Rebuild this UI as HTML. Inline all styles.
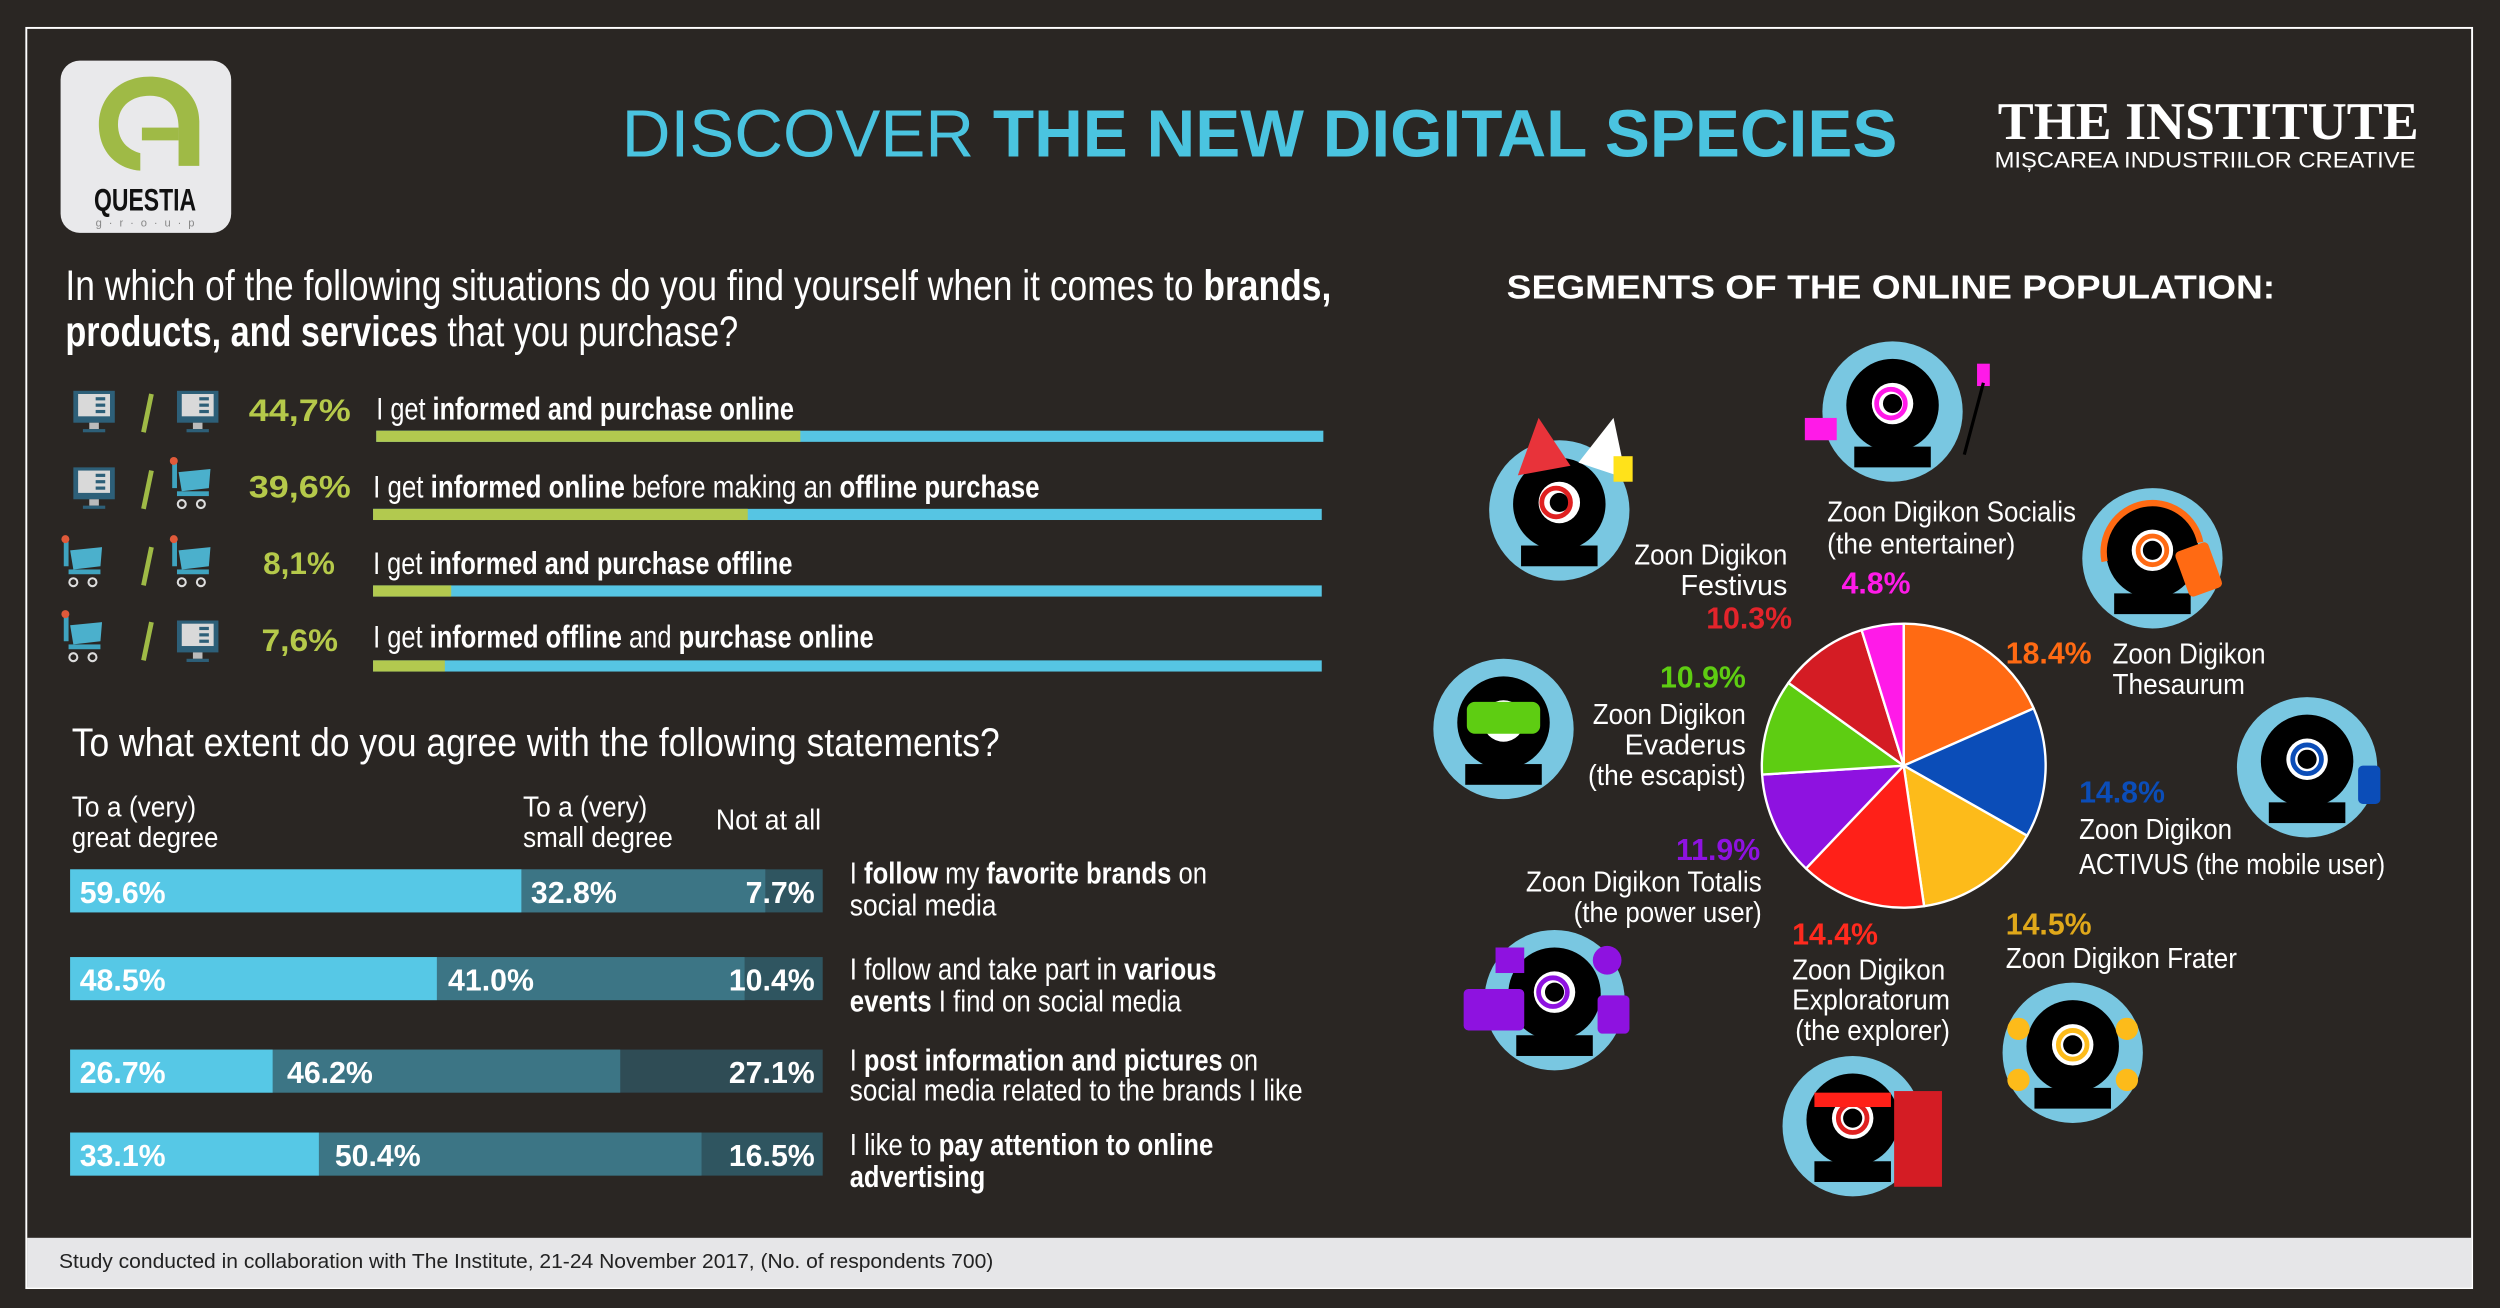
<!DOCTYPE html>
<html><head><meta charset="utf-8"><style>
html,body{margin:0;padding:0;background:#2a2623;}
svg{display:block;}
text{font-family:"Liberation Sans",sans-serif;}
</style></head><body>
<svg width="2500" height="1308" viewBox="0 0 1568 820" preserveAspectRatio="none" xmlns="http://www.w3.org/2000/svg">
<defs>
<g id="cam">
<circle cx="0" cy="0" r="44" fill="#79c7e1"/>
<circle cx="0" cy="-4" r="29" fill="#000"/>
<circle cx="0" cy="-5" r="13" fill="#fff"/>
<circle cx="0" cy="-5" r="6" fill="#000"/>
<rect x="-24" y="22" width="48" height="13" fill="#000"/>
</g>
<g id="mon">
<rect x="0" y="0" width="26" height="20" fill="#2d5f78"/>
<rect x="3" y="2" width="20" height="14" fill="#d9d9d9"/>
<rect x="14" y="4" width="6" height="2" fill="#2d5f78"/><rect x="14" y="8" width="6" height="2" fill="#2d5f78"/><rect x="14" y="12" width="6" height="2" fill="#2d5f78"/>
<rect x="10" y="20" width="6" height="4" fill="#bbb"/><rect x="6" y="24" width="14" height="2" fill="#2d5f78"/>
</g>
<g id="cart">
<rect x="-4" y="-2" width="3" height="16" fill="#3fa3bf"/>
<circle cx="-3" cy="-3" r="2.5" fill="#e05a3a"/>
<path d="M0 4 L20 2 L19 14 L2 16 Z" fill="#4bb0cc"/>
<rect x="-1" y="16" width="20" height="3" fill="#3fa3bf"/>
<circle cx="2" cy="24" r="2.5" fill="none" stroke="#ddd" stroke-width="1.3"/>
<circle cx="14" cy="24" r="2.5" fill="none" stroke="#ddd" stroke-width="1.3"/>
</g>
</defs>
<rect x="0" y="0" width="1568" height="820" fill="#2a2623"/>
<rect x="16.5" y="17.5" width="1534" height="790" fill="none" stroke="#fff" stroke-width="1.2"/>
<rect x="17" y="776" width="1533" height="31" fill="#e6e6e8"/>
<text x="37" y="795" font-size="13" fill="#222" textLength="586" lengthAdjust="spacingAndGlyphs">Study conducted in collaboration with The Institute, 21-24 November 2017, (No. of respondents 700)</text>

<!-- logo -->
<rect x="38" y="38" width="107" height="108" rx="12" fill="#e9e9eb"/>
<path d="M94 48 C74 48 62 62 62 78 C62 96 74 106 88 107 L88 96 C80 94 74 88 74 78 C74 66 83 60 94 60 C106 60 112 68 112 80 L112 104 L125 104 L125 76 C125 60 112 48 94 48 Z" fill="#9fba46"/>
<rect x="89" y="80" width="23" height="8" fill="#9fba46"/>
<text x="59" y="132" font-size="20" font-weight="bold" fill="#111" textLength="64" lengthAdjust="spacingAndGlyphs">QUESTIA</text>
<text x="60" y="142" font-size="7" fill="#888" textLength="62" lengthAdjust="spacing">g·r·o·u·p</text>

<!-- title -->
<text x="390" y="98" font-size="42" fill="#4ac4e0" textLength="800" lengthAdjust="spacingAndGlyphs"><tspan font-weight="normal">DISCOVER </tspan><tspan font-weight="bold">THE NEW DIGITAL SPECIES</tspan></text>
<text x="1253" y="87" font-size="33" font-weight="bold" fill="#fff" font-family="Liberation Serif" textLength="264" lengthAdjust="spacingAndGlyphs" style="font-family:'Liberation Serif',serif">THE INSTITUTE</text>
<text x="1251" y="105" font-size="14" fill="#fff" textLength="264" lengthAdjust="spacingAndGlyphs">MIȘCAREA INDUSTRIILOR CREATIVE</text>

<!-- question 1 -->
<text x="41" y="188" font-size="27" fill="#fff" textLength="794" lengthAdjust="spacingAndGlyphs">In which of the following situations do you find yourself when it comes to <tspan font-weight="bold">brands,</tspan></text>
<text x="41" y="217" font-size="27" fill="#fff" textLength="422" lengthAdjust="spacingAndGlyphs"><tspan font-weight="bold">products, and services</tspan> that you purchase?</text>

<!-- rows -->
<use href="#mon" x="46" y="245"/><use href="#mon" x="111" y="245"/>
<use href="#mon" x="46" y="293"/><use href="#cart" x="112" y="292"/>
<use href="#cart" x="44" y="341"/><use href="#cart" x="112" y="341"/>
<use href="#cart" x="44" y="388"/><use href="#mon" x="111" y="389"/>
<g stroke="#9fba46" stroke-width="3"><line x1="95" y1="247" x2="90" y2="271"/><line x1="95" y1="295" x2="90" y2="319"/><line x1="95" y1="343" x2="90" y2="367"/><line x1="95" y1="390" x2="90" y2="414"/></g>
<g font-size="20" font-weight="bold" fill="#b5c94a">
<text x="156" y="264" textLength="64" lengthAdjust="spacingAndGlyphs">44,7%</text>
<text x="156" y="312" textLength="64" lengthAdjust="spacingAndGlyphs">39,6%</text>
<text x="165" y="360" textLength="45" lengthAdjust="spacingAndGlyphs">8,1%</text>
<text x="164" y="408" textLength="48" lengthAdjust="spacingAndGlyphs">7,6%</text>
</g>
<g font-size="20" fill="#fff">
<text x="236" y="263" textLength="262" lengthAdjust="spacingAndGlyphs">I get <tspan font-weight="bold">informed and purchase online</tspan></text>
<text x="234" y="312" textLength="418" lengthAdjust="spacingAndGlyphs">I get <tspan font-weight="bold">informed  online</tspan> before making an <tspan font-weight="bold">offline purchase</tspan></text>
<text x="234" y="360" textLength="263" lengthAdjust="spacingAndGlyphs">I get <tspan font-weight="bold">informed and purchase offline</tspan></text>
<text x="234" y="406" textLength="314" lengthAdjust="spacingAndGlyphs">I get <tspan font-weight="bold">informed offline</tspan> and <tspan font-weight="bold">purchase online</tspan></text>
</g>
<rect x="236" y="270" width="594" height="7" fill="#56c5e3"/><rect x="236" y="270" width="266" height="7" fill="#b2c94f"/>
<rect x="234" y="319" width="595" height="7" fill="#56c5e3"/><rect x="234" y="319" width="235" height="7" fill="#b2c94f"/>
<rect x="234" y="367" width="595" height="7" fill="#56c5e3"/><rect x="234" y="367" width="49" height="7" fill="#b2c94f"/>
<rect x="234" y="414" width="595" height="7" fill="#56c5e3"/><rect x="234" y="414" width="45" height="7" fill="#b2c94f"/>

<!-- question 2 -->
<text x="45" y="474" font-size="25" fill="#fff" textLength="582" lengthAdjust="spacingAndGlyphs">To what extent do you agree with the following statements?</text>
<g font-size="18" fill="#fff">
<text x="45" y="512" textLength="78" lengthAdjust="spacingAndGlyphs">To a (very)</text>
<text x="45" y="531" textLength="92" lengthAdjust="spacingAndGlyphs">great degree</text>
<text x="328" y="512" textLength="78" lengthAdjust="spacingAndGlyphs">To a (very)</text>
<text x="328" y="531" textLength="94" lengthAdjust="spacingAndGlyphs">small degree</text>
<text x="449" y="520" textLength="66" lengthAdjust="spacingAndGlyphs">Not at all</text>
</g>
<g>
<rect x="44" y="545" width="472" height="27" fill="#2f5560"/><rect x="44" y="545" width="436" height="27" fill="#3c7585"/><rect x="44" y="545" width="283" height="27" fill="#56c8e6"/>
<rect x="44" y="600" width="472" height="27" fill="#2f5560"/><rect x="44" y="600" width="423" height="27" fill="#3c7585"/><rect x="44" y="600" width="230" height="27" fill="#56c8e6"/>
<rect x="44" y="658" width="472" height="27" fill="#2f4c55"/><rect x="44" y="658" width="345" height="27" fill="#3c7585"/><rect x="44" y="658" width="127" height="27" fill="#56c8e6"/>
<rect x="44" y="710" width="472" height="27" fill="#2f5560"/><rect x="44" y="710" width="396" height="27" fill="#3c7585"/><rect x="44" y="710" width="156" height="27" fill="#56c8e6"/>
</g>
<g font-size="19" font-weight="bold" fill="#fff">
<text x="50" y="566">59.6%</text><text x="333" y="566">32.8%</text><text x="511" y="566" text-anchor="end">7.7%</text>
<text x="50" y="621">48.5%</text><text x="281" y="621">41.0%</text><text x="511" y="621" text-anchor="end">10.4%</text>
<text x="50" y="679">26.7%</text><text x="180" y="679">46.2%</text><text x="511" y="679" text-anchor="end">27.1%</text>
<text x="50" y="731">33.1%</text><text x="210" y="731">50.4%</text><text x="511" y="731" text-anchor="end">16.5%</text>
</g>
<g font-size="19" fill="#fff">
<text x="533" y="554" textLength="224" lengthAdjust="spacingAndGlyphs">I <tspan font-weight="bold">follow</tspan> my <tspan font-weight="bold">favorite brands</tspan> on</text>
<text x="533" y="574" textLength="92" lengthAdjust="spacingAndGlyphs">social media</text>
<text x="533" y="614" textLength="230" lengthAdjust="spacingAndGlyphs">I follow and take part in <tspan font-weight="bold">various</tspan></text>
<text x="533" y="634" textLength="208" lengthAdjust="spacingAndGlyphs"><tspan font-weight="bold">events</tspan> I find on social media</text>
<text x="533" y="671" textLength="256" lengthAdjust="spacingAndGlyphs">I <tspan font-weight="bold">post information and pictures</tspan> on</text>
<text x="533" y="690" textLength="284" lengthAdjust="spacingAndGlyphs">social media related to the brands I like</text>
<text x="533" y="724" textLength="228" lengthAdjust="spacingAndGlyphs">I like to <tspan font-weight="bold">pay attention to online</tspan></text>
<text x="533" y="744" textLength="85" lengthAdjust="spacingAndGlyphs" font-weight="bold">advertising</text>
</g>

<!-- right -->
<text x="945" y="187" font-size="21" font-weight="bold" fill="#fff" textLength="482" lengthAdjust="spacingAndGlyphs">SEGMENTS OF THE ONLINE POPULATION:</text>
<g stroke="#fff" stroke-width="1.5" stroke-linejoin="round">
<path d="M1194 480 L1194 391 A89 89 0 0 1 1275.5 444.1 Z" fill="#ff6a13"/>
<path d="M1194 480 L1275.5 444.1 A89 89 0 0 1 1271.4 523.9 Z" fill="#0b4db8"/>
<path d="M1194 480 L1271.4 523.9 A89 89 0 0 1 1206.8 568.1 Z" fill="#fdbb1a"/>
<path d="M1194 480 L1206.8 568.1 A89 89 0 0 1 1132.7 544.5 Z" fill="#ff2018"/>
<path d="M1194 480 L1132.7 544.5 A89 89 0 0 1 1105.2 485.6 Z" fill="#8e12e0"/>
<path d="M1194 480 L1105.2 485.6 A89 89 0 0 1 1121.7 428.1 Z" fill="#5ecd12"/>
<path d="M1194 480 L1121.7 428.1 A89 89 0 0 1 1167.6 395.0 Z" fill="#d41c24"/>
<path d="M1194 480 L1167.6 395.0 A89 89 0 0 1 1194 391 Z" fill="#ff1ae8"/>
</g>

<use href="#cam" x="978" y="320"/><circle cx="976" cy="315" r="9" fill="none" stroke="#e02020" stroke-width="3"/>
<path d="M952 298 L965 262 L985 292 Z" fill="#e8333a"/><path d="M990 290 L1012 262 L1020 300 Z" fill="#fff"/><rect x="1012" y="286" width="12" height="16" fill="#ffe21a"/>
<use href="#cam" x="1187" y="258"/><circle cx="1186" cy="253" r="9" fill="none" stroke="#ff1ae8" stroke-width="3"/>
<rect x="1132" y="262" width="20" height="14" fill="#ff1ae8"/><rect x="1240" y="228" width="8" height="14" fill="#ff1ae8"/><line x1="1244" y1="240" x2="1232" y2="285" stroke="#000" stroke-width="2"/>
<use href="#cam" x="1350" y="350"/><circle cx="1350" cy="345" r="9" fill="none" stroke="#ff6a13" stroke-width="3"/>
<path d="M1320 352 A30 30 0 0 1 1380 340" fill="none" stroke="#ff6a13" stroke-width="4"/><rect x="1368" y="342" width="22" height="30" rx="3" fill="#ff6a13" transform="rotate(-20 1379 357)"/>
<use href="#cam" x="943" y="457"/><rect x="920" y="440" width="46" height="20" rx="5" fill="#5ecd12"/>
<use href="#cam" x="1447" y="481"/><circle cx="1447" cy="476" r="9" fill="none" stroke="#0b4db8" stroke-width="3"/><rect x="1479" y="480" width="14" height="24" rx="3" fill="#0b4db8"/>
<use href="#cam" x="975" y="627"/><circle cx="974" cy="622" r="9" fill="none" stroke="#8e12e0" stroke-width="3"/>
<rect x="918" y="620" width="38" height="26" rx="3" fill="#8e12e0"/><rect x="1002" y="624" width="20" height="24" rx="3" fill="#8e12e0"/><rect x="938" y="594" width="18" height="16" fill="#8e12e0"/><circle cx="1008" cy="602" r="9" fill="#8e12e0"/>
<use href="#cam" x="1162" y="706"/><circle cx="1162" cy="701" r="9" fill="none" stroke="#e02020" stroke-width="3"/><rect x="1138" y="685" width="48" height="9" fill="#ff2018"/><rect x="1188" y="684" width="30" height="60" fill="#d41c24"/>
<use href="#cam" x="1300" y="660"/><circle cx="1300" cy="655" r="9" fill="none" stroke="#fdbb1a" stroke-width="3"/>
<g fill="#fdbb1a"><circle cx="1266" cy="645" r="7"/><circle cx="1334" cy="645" r="7"/><circle cx="1266" cy="677" r="7"/><circle cx="1334" cy="677" r="7"/></g>

<g font-size="18" fill="#fff">
<text x="1121" y="354" text-anchor="end" textLength="96" lengthAdjust="spacingAndGlyphs">Zoon Digikon</text>
<text x="1121" y="373" text-anchor="end">Festivus</text>
<text x="1146" y="327" textLength="156" lengthAdjust="spacingAndGlyphs">Zoon Digikon Socialis</text>
<text x="1146" y="347" textLength="118" lengthAdjust="spacingAndGlyphs">(the entertainer)</text>
<text x="1325" y="416" textLength="96" lengthAdjust="spacingAndGlyphs">Zoon Digikon</text>
<text x="1325" y="435" textLength="83" lengthAdjust="spacingAndGlyphs">Thesaurum</text>
<text x="1095" y="454" text-anchor="end" textLength="96" lengthAdjust="spacingAndGlyphs">Zoon Digikon</text>
<text x="1095" y="473" text-anchor="end">Evaderus</text>
<text x="1095" y="492" text-anchor="end" textLength="99" lengthAdjust="spacingAndGlyphs">(the escapist)</text>
<text x="1304" y="526" textLength="96" lengthAdjust="spacingAndGlyphs">Zoon Digikon</text>
<text x="1304" y="548" textLength="192" lengthAdjust="spacingAndGlyphs">ACTIVUS (the mobile user)</text>
<text x="1105" y="559" text-anchor="end" textLength="148" lengthAdjust="spacingAndGlyphs">Zoon Digikon Totalis</text>
<text x="1105" y="578" text-anchor="end" textLength="118" lengthAdjust="spacingAndGlyphs">(the power user)</text>
<text x="1124" y="614" textLength="96" lengthAdjust="spacingAndGlyphs">Zoon Digikon</text>
<text x="1124" y="633" textLength="99" lengthAdjust="spacingAndGlyphs">Exploratorum</text>
<text x="1126" y="652" textLength="97" lengthAdjust="spacingAndGlyphs">(the explorer)</text>
<text x="1258" y="607" textLength="145" lengthAdjust="spacingAndGlyphs">Zoon Digikon Frater</text>
</g>
<g font-size="19" font-weight="bold">
<text x="1124" y="394" text-anchor="end" fill="#e3242b">10.3%</text>
<text x="1155" y="372" fill="#ff1ae8">4.8%</text>
<text x="1258" y="416" fill="#ff6a13">18.4%</text>
<text x="1095" y="431" text-anchor="end" fill="#5ecd12">10.9%</text>
<text x="1304" y="503" fill="#0b4db8">14.8%</text>
<text x="1104" y="539" text-anchor="end" fill="#8e12e0">11.9%</text>
<text x="1124" y="592" fill="#ff2a1e">14.4%</text>
<text x="1258" y="586" fill="#e0a81a">14.5%</text>
</g>
</svg>
</body></html>
